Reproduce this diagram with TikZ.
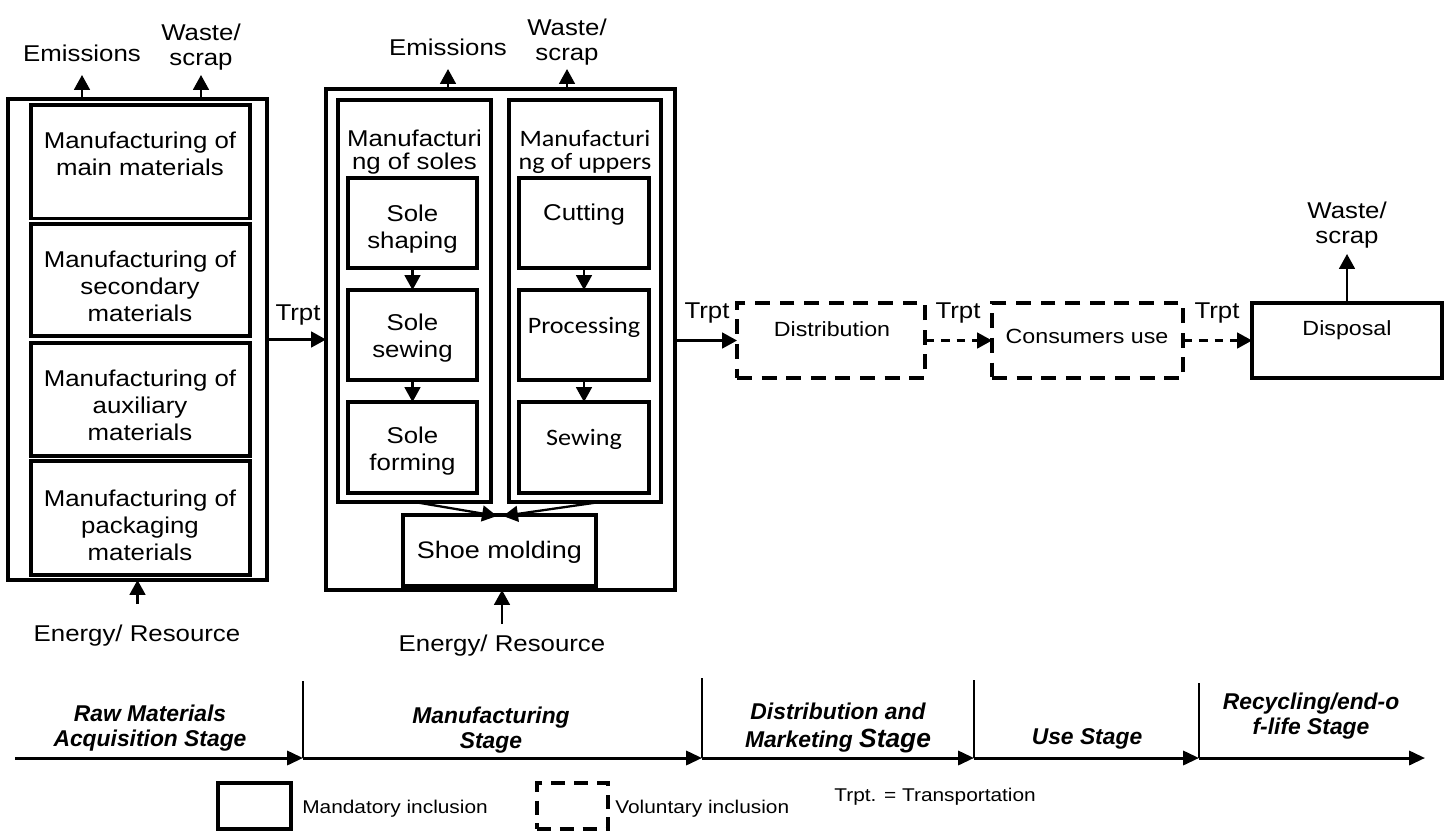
\documentclass[tikz,border=0pt]{standalone}
\usepackage{fontspec}
\setmainfont{Liberation Sans}[FakeStretch=1.13]
\newfontfamily\calfont{Carlito}[FakeStretch=1.11]
\newfontfamily\stgfont{Liberation Sans}
\usetikzlibrary{arrows.meta}
\newcommand\mkbox[6]{\node[#6, minimum width={(#4-#2)*0.02cm}, minimum height={(#5-#3)*0.02cm}] (#1) at ({(#2+#4)/2},{(#3+#5)/2}) {};}
\tikzset{
  bx/.style={draw, line width=2.1pt, inner sep=0pt, outer sep=0pt},
  ibx/.style={draw, line width=1.9pt, inner sep=0pt, outer sep=0pt},
  dbx/.style={bx, dash pattern=on 8.5pt off 5.5pt},
  lbx/.style={draw, line width=1.9pt, inner sep=0pt, outer sep=0pt},
  ldbx/.style={lbx, dash pattern=on 8pt off 5pt},
  arr/.style={line width=1.3pt, -{Triangle[length=8.5pt,width=9pt]}},
  darr/.style={arr, dash pattern=on 5pt off 4pt},
  tl/.style={line width=1.7pt, -{Triangle[length=9pt,width=8pt]}},
  tick/.style={line width=1.2pt},
  txt/.style={inner sep=0pt, align=center, font=\fontsize{13}{15.3}\selectfont},
  htxt/.style={inner sep=0pt, align=center, font=\fontsize{13}{13.2}\selectfont},
  ctxt/.style={inner sep=0pt, align=center, font=\calfont\fontsize{13.4}{13.2}\selectfont},
  stxt/.style={inner sep=0pt, align=center, font=\fontsize{11.7}{13}\selectfont},
  tr/.style={inner sep=0pt, font=\fontsize{13}{14}\selectfont},
  stg/.style={inner sep=0pt, align=center, font=\stgfont\bfseries\itshape\fontsize{13}{14.2}\selectfont},
  lg/.style={inner sep=0pt, anchor=west, font=\fontsize{10.5}{12}\selectfont}
}
\begin{document}
\begin{tikzpicture}[x=0.02cm, y=-0.02cm]
\useasboundingbox (0,0) rectangle (1449,832);

% ---------- Raw materials acquisition ----------
\mkbox{raw}{8}{99}{267}{580}{bx}
\mkbox{b1}{31}{105}{250}{218.5}{ibx}
\mkbox{b2}{31}{224}{250}{336}{ibx}
\mkbox{b3}{31}{343}{250}{456}{ibx}
\mkbox{b4}{31}{461}{250}{575}{ibx}
\node[txt] (b1t) at (140,154) {Manufacturing of\\main materials};
\node[txt] (b2t) at (140,286) {Manufacturing of\\secondary\\materials};
\node[txt] (b3t) at (140,405) {Manufacturing of\\auxiliary\\materials};
\node[txt] (b4t) at (140,525) {Manufacturing of\\packaging\\materials};

\node[txt] (em1) at (82,53) {Emissions};
\node[txt, font=\fontsize{13}{14.5}\selectfont] (ws1) at (201,47) {Waste/\\scrap};
\coordinate (em1a) at (82,75);
\coordinate (ws1a) at (201,75);
\draw[arr] (raw.north -| em1a) -- (em1a);
\draw[arr] (raw.north -| ws1a) -- (ws1a);
\node[txt] (en1) at (137,636) {Energy/ Resource};
\coordinate (en1a) at (137.5,604);
\draw[arr] (en1a) -- (raw.south);

% ---------- Manufacturing ----------
\mkbox{manuf}{326}{89}{675}{590}{bx}
\mkbox{soles}{338}{100}{491}{502}{bx}
\mkbox{uppers}{509}{100}{661}{502}{bx}
\node[htxt] (solesT) at (414.5,152) {Manufacturi\\ng of soles};
\node[ctxt] (uppT) at (585,152) {Manufacturi\\ng of uppers};

\mkbox{ss}{348}{178}{477}{268}{bx}
\mkbox{sw}{348}{290}{477}{380}{bx}
\mkbox{sf}{348}{402}{477}{493}{bx}
\node[txt] (ssT) at (412.5,229) {Sole\\shaping};
\node[txt] (swT) at (412.5,338) {Sole\\sewing};
\node[txt] (sfT) at (412.5,451) {Sole\\forming};

\mkbox{cut}{519}{178}{649}{268}{bx}
\mkbox{proc}{519}{290}{649}{380}{bx}
\mkbox{sew}{519}{402}{649}{493}{bx}
\node[txt] (cutT) at (584,215) {Cutting};
\node[ctxt] (procT) at (584,327) {Processing};
\node[ctxt] (sewT) at (584,439) {Sewing};

\draw[arr] (ss.south) -- (sw.north);
\draw[arr] (sw.south) -- (sf.north);
\draw[arr] (cut.south) -- (proc.north);
\draw[arr] (proc.south) -- (sew.north);

\mkbox{mold}{403}{515}{596}{586}{bx}
\node[txt, font=\fontsize{13.6}{15}\selectfont] (moldT) at (499.5,552) {Shoe molding};
\coordinate (mL) at (497,516);
\coordinate (mR) at (503,516);
\draw[arr] (soles.south) -- (mL);
\draw[arr] ([xshift=0.3cm]uppers.south) -- (mR);

\node[txt] (em2) at (448,47) {Emissions};
\node[txt, font=\fontsize{13}{14.5}\selectfont] (ws2) at (567,42) {Waste/\\scrap};
\coordinate (em2a) at (448,69);
\coordinate (ws2a) at (567,69);
\draw[arr] (manuf.north -| em2a) -- (em2a);
\draw[arr] (manuf.north -| ws2a) -- (ws2a);
\node[txt] (en2) at (502,646) {Energy/ Resource};
\coordinate (en2a) at (502,624);
\draw[arr] (en2a) -- (manuf.south -| en2a);

\node[tr] (tr1) at (298,315) {Trpt};
\draw[arr] (raw.east) -- (manuf.west);

% ---------- Distribution, use, disposal ----------
\mkbox{dist}{737}{303}{925}{378}{dbx}
\mkbox{cons}{992}{303}{1183}{378}{dbx}
\mkbox{disp}{1252}{303}{1442}{378}{bx}
\node[stxt] (distT) at (832,329) {Distribution};
\node[stxt] (consT) at (1087,336) {Consumers use};
\node[stxt] (dispT) at (1347,330) {Disposal};

\node[tr] (tr2) at (707,313) {Trpt};
\node[tr] (tr3) at (958,313) {Trpt};
\node[tr] (tr4) at (1217,313) {Trpt};
\draw[arr] (manuf.east |- dist.west) -- (dist.west);
\draw[darr] (dist.east) -- (cons.west);
\draw[darr] (cons.east) -- (disp.west);

\node[txt, font=\fontsize{13}{14.5}\selectfont] (ws3) at (1347,225) {Waste/\\scrap};
\coordinate (ws3a) at (1347,254);
\draw[arr] (disp.north) -- (ws3a);

% ---------- Timeline ----------
\coordinate (t0) at (15,758);
\coordinate (t1) at (303,758);
\coordinate (t2) at (702,758);
\coordinate (t3) at (974,758);
\coordinate (t4) at (1199,758);
\coordinate (t5) at (1425,758);
\coordinate (u1) at (303,681);
\coordinate (u2) at (702,678);
\coordinate (u3) at (974,680);
\coordinate (u4) at (1199,683);
\draw[tick] (u1) -- (t1);
\draw[tick] (u2) -- (t2);
\draw[tick] (u3) -- (t3);
\draw[tick] (u4) -- (t4);
\draw[tl] (t0) -- (t1);
\draw[tl] (t1) -- (t2);
\draw[tl] (t2) -- (t3);
\draw[tl] (t3) -- (t4);
\draw[tl] (t4) -- (t5);

\node[stg] (s1) at (150,728) {Raw Materials\\Acquisition Stage};
\node[stg] (s2) at (491,730) {Manufacturing\\Stage};
\node[stg, font=\stgfont\bfseries\itshape\fontsize{13}{16}\selectfont] (s3) at (838,728) {Distribution and\\Marketing {\fontsize{15}{16}\selectfont Stage}};
\node[stg] (s4) at (1087,739) {Use Stage};
\node[stg] (s5) at (1311,716) {Recycling/end-o\\f-life Stage};

% ---------- Legend ----------
\mkbox{lg1}{218}{783}{291}{829}{lbx}
\node[lg] (lg1T) at (302,809) {Mandatory inclusion};
\mkbox{lg2}{537}{783}{608}{829}{ldbx}
\node[lg] (lg2T) at (615,809) {Voluntary inclusion};
\node[lg] (lg3T) at (834,797) {Trpt. = Transportation};
\end{tikzpicture}
\end{document}
